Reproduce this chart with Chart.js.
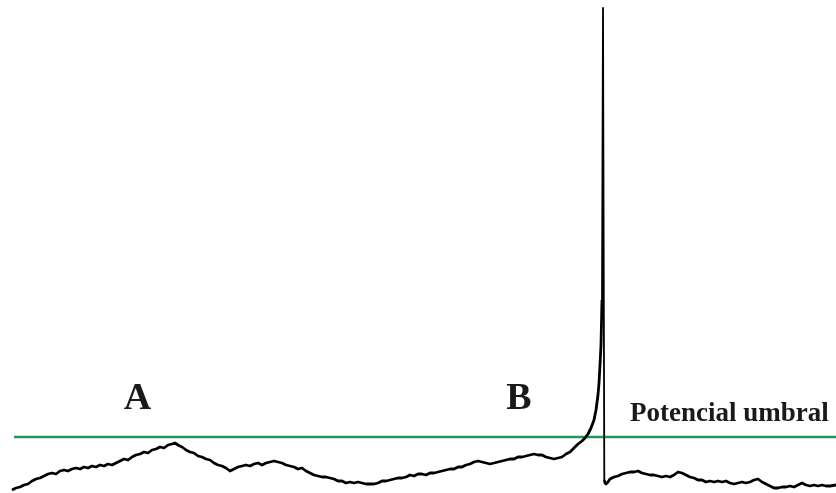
<!DOCTYPE html>
<html>
<head>
<meta charset="utf-8">
<script src="https://cdn.jsdelivr.net/npm/chart.js@4.4.1/dist/chart.umd.min.js"></script>
<style>
  html, body { margin: 0; padding: 0; background: #fff; }
  #wrap { width: 836px; height: 493px; position: relative; }
</style>
</head>
<body>
<div id="wrap"><canvas id="myChart"></canvas></div>
<script>
// tiempo (ms) y potencial de membrana (mV)
var time = [
  1.2, 1.6, 2.0, 2.4, 2.8, 3.2, 3.6, 4.0, 4.4, 4.8, 5.2, 5.6, 6.0, 6.4, 6.8, 7.2, 7.6, 8.0, 8.4, 8.8,
  9.2, 9.6, 10.0, 10.4, 10.8, 11.2, 11.6, 12.0, 12.4, 12.8, 13.2, 13.6, 14.0, 14.4, 14.8, 15.2, 15.6, 16.0, 16.4, 16.8,
  17.2, 17.5, 17.8, 18.2, 18.6, 19.0, 19.4, 19.8, 20.2, 20.6, 21.0, 21.4, 21.8, 22.2, 22.6, 23.0, 23.4, 23.8, 24.2, 24.6,
  25.0, 25.4, 25.8, 26.2, 26.6, 27.0, 27.4, 27.8, 28.2, 28.6, 29.0, 29.4, 29.8, 30.2, 30.6, 31.0, 31.4, 31.8, 32.2, 32.6,
  33.0, 33.4, 33.8, 34.2, 34.6, 35.0, 35.4, 35.8, 36.2, 36.6, 37.0, 37.4, 37.8, 38.2, 38.6, 39.0, 39.4, 39.8, 40.2, 40.6,
  41.0, 41.4, 41.8, 42.2, 42.6, 43.0, 43.4, 43.8, 44.2, 44.6, 45.0, 45.4, 45.8, 46.2, 46.6, 47.0, 47.4, 47.8, 48.2, 48.6,
  49.0, 49.4, 49.8, 50.2, 50.6, 51.0, 51.4, 51.8, 52.2, 52.6, 53.0, 53.4, 53.8, 54.2, 54.6, 55.0, 55.4, 55.8, 56.2, 56.6,
  57.0, 57.4, 57.8, 58.2, 58.5, 58.8, 59.1, 59.4, 59.6, 59.8, 59.9, 60.0, 60.1, 60.2, 60.3, 60.36, 60.43, 60.5,
  60.6, 60.8, 61.0, 61.4, 61.8, 62.2, 62.6, 63.0, 63.4, 63.8, 64.2, 64.6, 65.0, 65.4, 65.8, 66.2, 66.6, 67.0, 67.4, 67.8,
  68.2, 68.6, 69.0, 69.4, 69.8, 70.2, 70.6, 71.0, 71.4, 71.8, 72.2, 72.6, 73.0, 73.4, 73.8, 74.2, 74.6, 75.0, 75.4, 75.8,
  76.2, 76.6, 77.0, 77.4, 77.8, 78.2, 78.6, 79.0, 79.4, 79.8, 80.2, 80.6, 81.0, 81.4, 81.8, 82.2, 82.6, 83.0, 83.6
];
var potential = [
  -65.6, -65.2, -65.0, -64.6, -64.4, -63.8, -63.4, -63.2, -62.8, -62.4, -62.2, -62.4, -61.8, -61.6, -61.8, -61.4, -61.2, -61.4, -61.0, -61.2,
  -60.8, -61.0, -60.6, -60.8, -60.4, -60.6, -60.2, -59.8, -59.4, -59.6, -59.0, -58.6, -58.4, -58.0, -58.2, -57.6, -57.4, -57.0, -57.2, -56.6,
  -56.4, -56.2, -56.6, -57.0, -57.6, -58.0, -58.2, -58.8, -59.0, -59.4, -59.6, -60.2, -60.6, -60.8, -61.2, -61.8, -61.4, -61.0, -60.8, -60.6,
  -60.8, -60.4, -60.2, -60.6, -60.2, -60.0, -59.8, -60.0, -60.2, -60.6, -60.8, -61.0, -61.4, -61.2, -61.8, -62.2, -62.6, -62.8, -63.0, -63.0,
  -63.2, -63.4, -63.8, -63.8, -64.2, -64.0, -64.2, -64.0, -64.2, -64.4, -64.4, -64.4, -64.2, -63.8, -63.8, -63.6, -63.4, -63.2, -63.2, -63.0,
  -62.6, -62.8, -62.4, -62.4, -62.6, -62.2, -62.2, -62.0, -61.8, -61.6, -61.4, -61.4, -61.0, -61.0, -60.6, -60.4, -60.0, -59.8, -60.0, -60.2,
  -60.4, -60.2, -60.0, -59.8, -59.6, -59.4, -59.4, -59.0, -59.0, -58.8, -58.6, -58.4, -58.6, -58.6, -59.0, -59.2, -59.4, -59.2, -59.0, -58.4,
  -58.0, -57.2, -56.4, -55.8, -55.2, -54.4, -53.2, -51.6, -49.6, -46.6, -44.2, -40.6, -36.6, -27.6, 30.8, 30.8, -63.6, -64.2,
  -64.4, -64.0, -63.4, -63.0, -62.8, -62.4, -62.2, -62.0, -62.0, -61.8, -62.2, -62.4, -62.6, -62.6, -62.8, -63.0, -62.8, -63.0, -62.6, -62.0,
  -62.2, -62.6, -63.0, -63.2, -63.6, -63.6, -64.0, -63.8, -64.0, -63.8, -64.0, -63.8, -64.2, -64.4, -64.2, -64.0, -64.2, -64.0, -63.6, -63.4,
  -64.0, -64.4, -64.8, -65.2, -65.2, -65.0, -65.0, -64.8, -65.0, -64.6, -64.2, -64.6, -64.8, -64.6, -64.8, -64.6, -64.8, -64.8, -64.6
];

// potencial umbral
var thresholdTime = [1.4, 83.6];
var thresholdValue = -55;

// etiquetas
var labelText = ["A", "B", "Potencial umbral"];
var labelTime = [13.75, 51.9, 63.0];
var labelPotential = [-49.4, -49.4, -51.8];

function buildTrace() {
  var pts = [];
  for (var i = 0; i < time.length; i++) {
    pts.push({ x: time[i], y: potential[i] });
  }
  return pts;
}

var labelsPlugin = {
  id: 'labels',
  afterDatasetsDraw: function(chart) {
    var ctx = chart.ctx;
    var xs = chart.scales.x, ys = chart.scales.y;
    ctx.save();
    ctx.fillStyle = '#1a1a1a';
    ctx.textBaseline = 'alphabetic';
    for (var i = 0; i < labelText.length; i++) {
      var big = labelText[i].length == 1;
      ctx.font = big ? 'bold 38px "Liberation Serif"' : 'bold 27px "Liberation Serif"';
      ctx.textAlign = big ? 'center' : 'left';
      ctx.fillText(labelText[i], xs.getPixelForValue(labelTime[i]), ys.getPixelForValue(labelPotential[i]));
    }
    ctx.restore();
  }
};

function getGraph() {
  var ctx = document.getElementById('myChart').getContext('2d');
  var chart = new Chart(ctx, {
    type: 'line',
    data: {
      datasets: [{
        label: 'Potencial de membrana',
        data: buildTrace(),
        borderColor: '#000000',
        borderWidth: 2.8,
        borderJoinStyle: 'round',
        pointRadius: 0,
        tension: 0,
        fill: false,
        segment: {
          // la espiga se dibuja más fina
          borderWidth: function(c) { return c.p1.parsed.y > -20 || c.p0.parsed.y > -20 ? 1.8 : 2.8; }
        }
      }, {
        label: 'Potencial umbral',
        data: thresholdTime.map(function(t) { return { x: t, y: thresholdValue }; }),
        borderColor: 'rgb(34, 150, 92)',
        borderWidth: 2.4,
        pointRadius: 0,
        fill: false
      }]
    },
    options: {
      responsive: true,
      maintainAspectRatio: false,
      animation: false,
      layout: { padding: 0 },
      plugins: {
        legend: { display: false },
        tooltip: { enabled: false }
      },
      scales: {
        x: { type: 'linear', min: 0, max: 83.6, display: false },
        y: { min: -66.2, max: 32.4, display: false }
      }
    },
    plugins: [labelsPlugin]
  });
}

getGraph();
</script>
</body>
</html>
